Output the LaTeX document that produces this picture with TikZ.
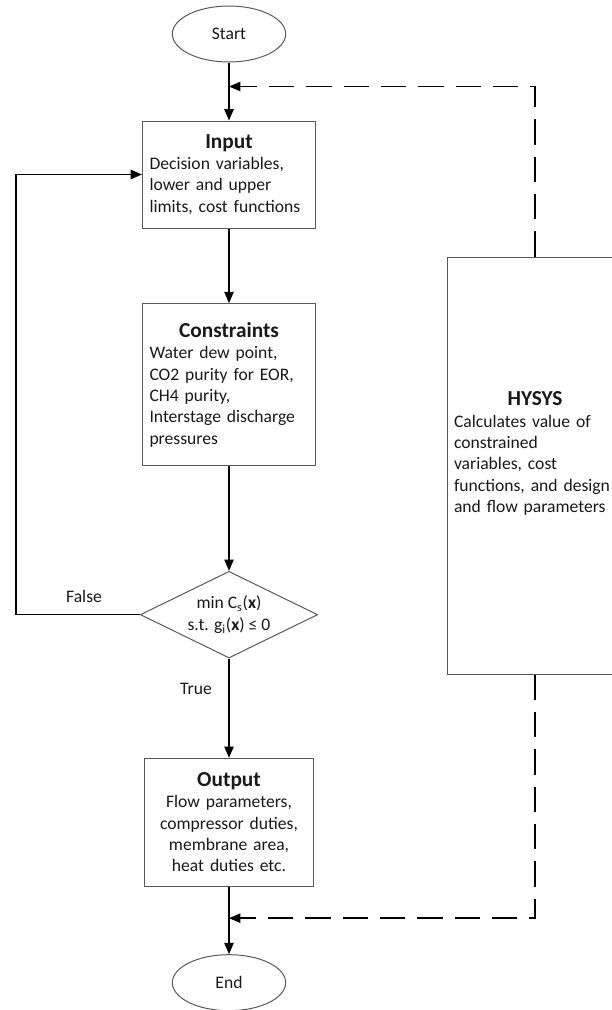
\documentclass[tikz,border=0pt]{standalone}
\usepackage{fontspec}
\setmainfont{Carlito}
\usetikzlibrary{positioning,shapes.geometric,arrows.meta}
\newcommand{\optbody}{\fontsize{13.2}{16}\selectfont}
\newcommand{\opttitle}[1]{{\centering\fontsize{16}{18.5}\selectfont\bfseries #1\par}}
\tikzset{
	optbox/.style={
		draw=black!65,
		line width=0.75pt,
		align=left,
		inner xsep=5.25pt,
		inner ysep=4pt,
		font=\optbody,
		text=black!90
	},
	optStep/.style={optbox, text width=119.25pt},
	optTerminal/.style={optbox, ellipse, align=center, minimum width=85pt, minimum height=42pt, inner sep=0pt},
	optDecision/.style={optbox, diamond, aspect=2, align=center, minimum width=133pt, minimum height=65pt, inner sep=0pt},
	optLabel/.style={font=\optbody, text=black!90},
	optFlow/.style={-{Triangle[length=8.5pt,width=7pt]}, line width=1.1pt},
	optFeedback/.style={optFlow, dash pattern=on 19pt off 9pt}
}

\begin{document}
\begin{tikzpicture}

	\useasboundingbox (0,0) rectangle (458.25pt,-757.5pt);

	% Main column
	\node[optTerminal] (start) at (171.75pt,-25.5pt) {Start};
	\node[optStep, minimum height=80.25pt, below=43.5pt of start] (input)
	{\opttitle{Input}Decision variables,\\lower and upper\\limits, cost functions};
	\node[optStep, minimum height=121.5pt, below=56pt of input] (constraints)
	{\opttitle{Constraints}Water dew point,\\CO2 purity for EOR,\\CH4 purity,\\Interstage discharge\\pressures};
	\node[optDecision, below=78.5pt of constraints] (check)
	{min C\textsubscript{s}(\textbf{x})\\s.t. g\textsubscript{i}(\textbf{x}) ≤ 0};
	\node[optStep, text width=116.25pt, align=center, minimum height=96pt, below=74.5pt of check] (output)
	{\opttitle{Output}Flow parameters,\\compressor duties,\\membrane area,\\heat duties etc.};
	\node[optTerminal, below=50.5pt of output] (end) {End};

	% Simulator
	\node[optStep, text width=121.5pt, minimum height=312.75pt] (hysys) at (401.25pt,-349.125pt)
	{\opttitle{HYSYS}Calculates value of\\constrained\\variables, cost\\functions, and design\\and flow parameters\par\vspace{18pt}};

	% Turning points
	\coordinate[below=18pt of start.south] (hysysin);
	\coordinate[below=23.5pt of output.south] (hysysout);
	\coordinate[left=93pt of check.west] (falsecorner);

	% Flows
	\draw[optFlow] (start) -- (input);
	\draw[optFlow] (input) -- (constraints);
	\draw[optFlow] (constraints) -- (check);
	\draw[optFlow] (check) -- node[optLabel, pos=0.31, left=9pt]{True} (output);
	\draw[optFlow] (output) -- (end);
	\draw[optFlow] (check.west) -- node[optLabel, above=5pt, pos=0.45]{False} (falsecorner) |- (input.west);

	\draw[optFeedback] (hysys.north) |- (hysysin);
	\draw[optFeedback] (hysys.south) |- (hysysout);

\end{tikzpicture}
\end{document}
